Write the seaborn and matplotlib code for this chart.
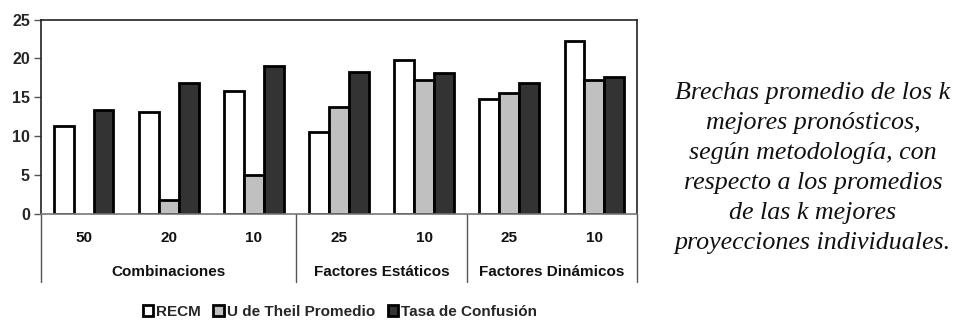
import numpy as np
import pandas as pd
import matplotlib
matplotlib.use("Agg")
import matplotlib.pyplot as plt
import seaborn as sns
from matplotlib.patches import Patch

# Data
groups = ["Combinaciones", "Combinaciones", "Combinaciones",
          "Factores Estáticos", "Factores Estáticos",
          "Factores Dinámicos", "Factores Dinámicos"]
k_labels = ["50", "20", "10", "25", "10", "25", "10"]
recm = [11.3, 13.1, 15.8, 10.6, 19.8, 14.8, 22.2]
theil = [np.nan, 1.8, 5.0, 13.8, 17.2, 15.5, 17.2]
tasa = [13.4, 16.8, 19.0, 18.3, 18.1, 16.9, 17.6]
series = ["RECM", "U de Theil Promedio", "Tasa de Confusión"]
colors = ["#FFFFFF", "#C0C0C0", "#333333"]
y_ticks = [0, 5, 10, 15, 20, 25]
caption = ("Brechas promedio de los k\nmejores pronósticos,\n"
           "según metodología, con\nrespecto a los promedios\n"
           "de las k mejores\nproyecciones individuales.")

cat_ids = [f"{g} {k}" for g, k in zip(groups, k_labels)]
df = pd.DataFrame({
    "cat": cat_ids * 3,
    "serie": np.repeat(series, len(cat_ids)),
    "valor": recm + theil + tasa,
})

sns.set_theme(style="white")
plt.rcParams["font.family"] = ["Liberation Sans", "DejaVu Sans"]

LBL = 11

fig = plt.figure(figsize=(9.57, 3.2), dpi=100)
ax = fig.add_axes([41 / 957, 1 - 214 / 320, (637 - 41) / 957, (214 - 19.5) / 320])

sns.barplot(data=df, x="cat", y="valor", hue="serie", order=cat_ids,
            hue_order=series, palette=colors, edgecolor="black",
            linewidth=2.0, width=0.7, gap=0.0, ax=ax, legend=False,
            saturation=1)

ax.set_xlim(-0.5, len(cat_ids) - 0.5)
ax.set_ylim(0, 25)
ax.set_yticks(y_ticks)
ax.set_yticklabels([str(t) for t in y_ticks], fontsize=11.5, fontweight="bold")
ax.tick_params(axis="y", left=True, length=5, width=1, color="#555555", pad=3)
ax.set_xticks([])
ax.set_xlabel("")
ax.set_ylabel("")
for side in ["top", "right", "left"]:
    ax.spines[side].set_color("#222222")
    ax.spines[side].set_linewidth(1.2)
ax.spines["bottom"].set_color("#777777")
ax.spines["bottom"].set_linewidth(1.2)

# Hierarchical category axis
trans = matplotlib.transforms.blended_transform_factory(ax.transData, ax.transAxes)
ax_h = 214 - 19.5
y_tick_lbl = -(238.5 - 214) / ax_h
y_grp_lbl = -(272 - 214) / ax_h
y_sep_end = -(282 - 214) / ax_h
for i, k in enumerate(k_labels):
    ax.text(i, y_tick_lbl, k, transform=trans, ha="center", va="center",
            fontsize=LBL, fontweight="bold", color="#111111")
bounds = [-0.5]
uniq = []
for i, g in enumerate(groups):
    if not uniq or uniq[-1][0] != g:
        uniq.append([g, i, i])
    else:
        uniq[-1][2] = i
for g, a, b in uniq:
    ax.text((a + b) / 2, y_grp_lbl, g, transform=trans, ha="center", va="center",
            fontsize=LBL, fontweight="bold", color="#111111")
    bounds.append(b + 0.5)
for xb in bounds:
    ax.plot([xb, xb], [0, y_sep_end], transform=trans, color="#555555",
            lw=1.0, clip_on=False)

# Legend
handles = [Patch(facecolor=c, edgecolor="black", linewidth=2.0) for c in colors]
fig.legend(handles, series, loc="center", bbox_to_anchor=(340 / 957, 1 - 312 / 320),
           ncol=3, frameon=False, handlelength=0.7, handleheight=0.7,
           handletextpad=0.2, columnspacing=0.8, borderpad=0.0,
           prop={"family": "Liberation Sans", "weight": "bold", "size": 11})

# Caption
fig.text(813 / 957, 1 - 168 / 320, caption, ha="center", va="center",
         family="Liberation Serif", style="italic", fontsize=18.7,
         linespacing=1.46, color="#111111")

fig.savefig("out.png", dpi=100)
